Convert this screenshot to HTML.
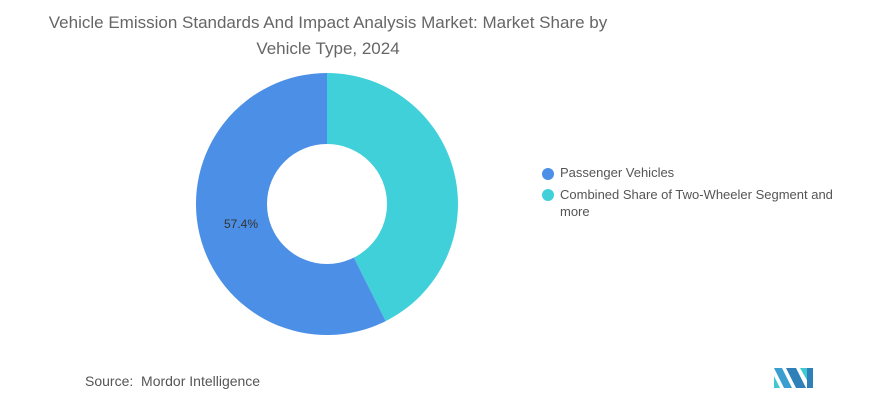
<!DOCTYPE html>
<html><head><style>
body{margin:0;width:870px;height:406px;background:#fff;font-family:"Liberation Sans",sans-serif;position:relative;overflow:hidden}
.t{position:absolute;left:0;width:656px;top:10px;text-align:center;font-size:17px;color:#666;line-height:26px}
.leg{position:absolute;font-size:13px;color:#555}
.dot{position:absolute;width:12px;height:12px;border-radius:50%}
</style></head><body>
<div class="t">Vehicle Emission Standards And Impact Analysis Market: Market Share by<br>Vehicle Type, 2024</div>
<svg width="870" height="406" style="position:absolute;left:0;top:0">
<path d="M327,204 L327,73 A131,131 0 0 1 385.7,321.1 Z" fill="#40d0da"/>
<path d="M327,204 L385.7,321.1 A131,131 0 1 1 327,73 Z" fill="#4c8fe6"/>
<circle cx="327" cy="204" r="60" fill="#fff"/>
<text x="224" y="228" font-size="12" fill="#333" font-family="Liberation Sans">57.4%</text>
<g transform="translate(774,368)">
<polygon points="0,0 8,0 18,20 10,20" fill="#3a9fd0"/>
<polygon points="0,8 0,20 6,20" fill="#40c8d0"/>
<polygon points="12,0 22,0 32,20 22,20" fill="#2f7fb8"/>
<polygon points="26,0 34,0 34,14" fill="#40c8d0"/>
<polygon points="33,0 39,0 39,20 33,20" fill="#2f7fb8"/>
</g>
</svg>
<div class="leg" style="top:165px;left:560px"><span class="dot" style="background:#4c8fe6;left:-18px;top:3px"></span>Passenger Vehicles</div>
<div class="leg" style="top:186px;left:560px;line-height:17px;width:300px"><span class="dot" style="background:#40d0da;left:-18px;top:3px"></span>Combined Share of Two-Wheeler Segment and<br>more</div>
<div style="position:absolute;left:85px;top:373px;font-size:14px;color:#555">Source:&nbsp; Mordor Intelligence</div>
</body></html>
